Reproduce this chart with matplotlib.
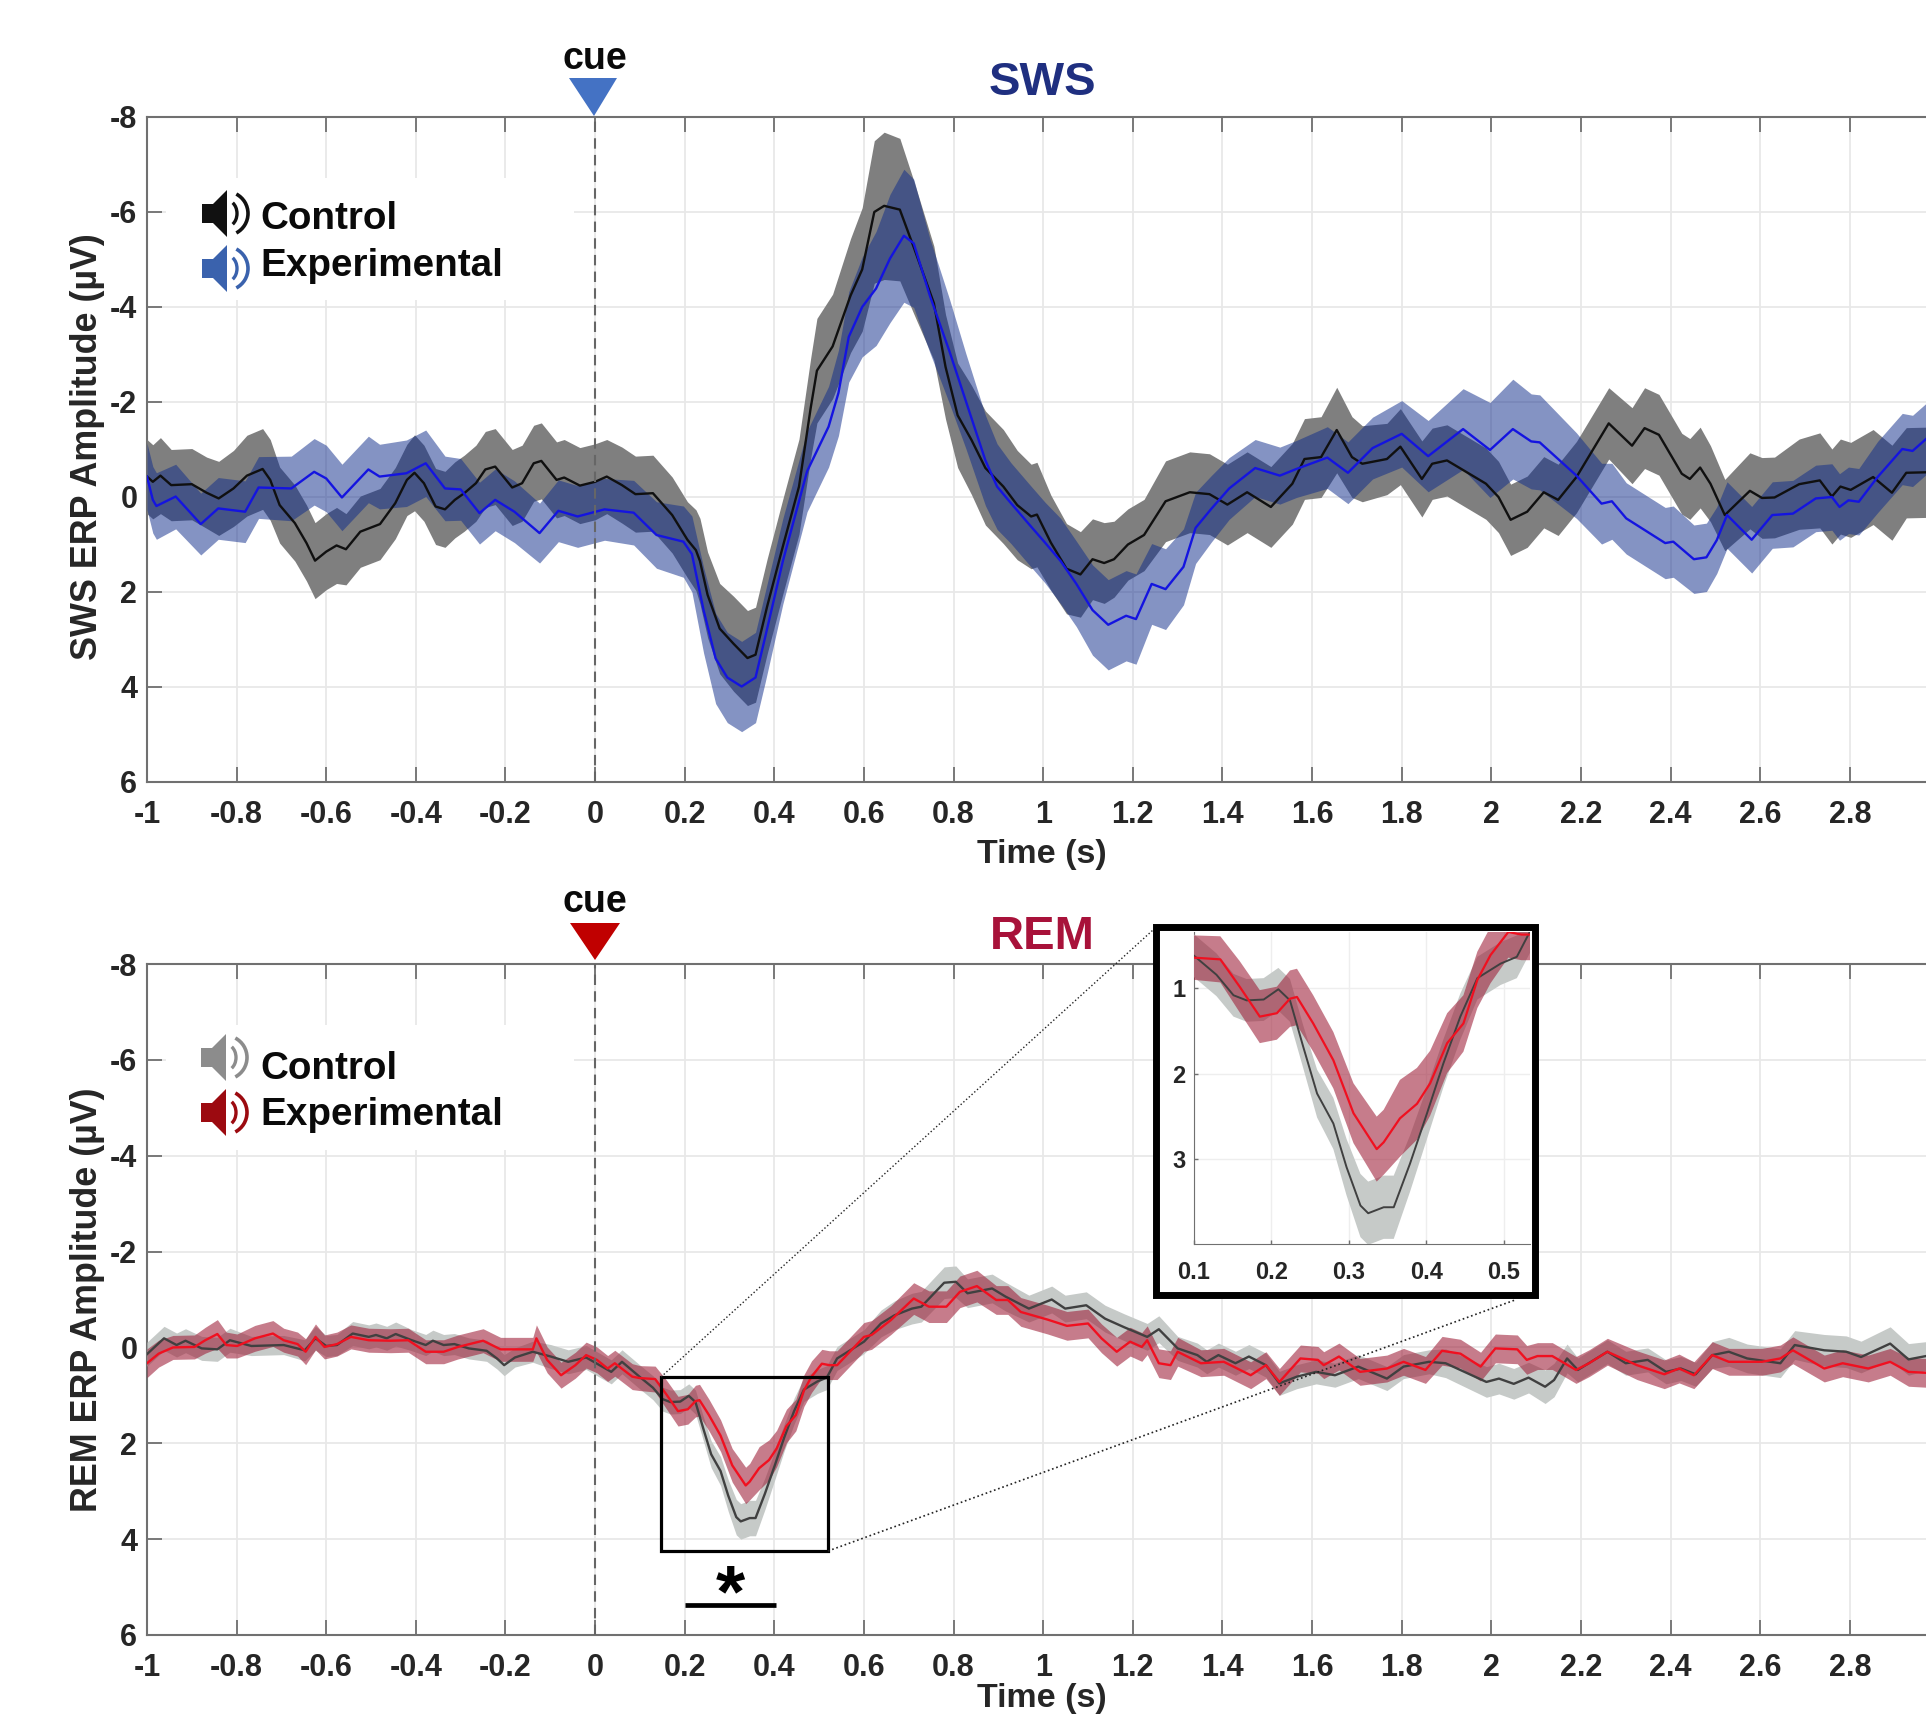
import matplotlib
matplotlib.use('Agg')
import matplotlib.pyplot as plt
import numpy as np
from matplotlib.patches import Polygon, Rectangle, Arc

plt.rcParams['font.family'] = ['Liberation Sans', 'DejaVu Sans']
plt.rcParams['font.weight'] = 'bold'
plt.rcParams['axes.labelweight'] = 'bold'

W, H = 1926, 1718

# SWS control
sws_c_t = [-1, -.987, -.97, -.946, -.90, -.867, -.84, -.807, -.777, -.742,
           -.725, -.704, -.67, -.644, -.625, -.60, -.577, -.556, -.524, -.48,
           -.446, -.42, -.403, -.382, -.356, -.335, -.313, -.292, -.266, -.245,
           -.223, -.185, -.163, -.137, -.12, -.086, -.069, -.034, 0, .026,
           .06, .09, .129, .172, .206, .225, .234, .251, .278, .309,
           .34, .358, .384, .419, .455, .481, .495, .53, .57, .596,
           .623, .645, .68, .711, .756, .782, .809, .84, .871, .911,
           .942, .973, .986, 1.017, 1.052, 1.083, 1.11, 1.136, 1.158, 1.189,
           1.225, 1.273, 1.327, 1.371, 1.411, 1.455, 1.508, 1.556, 1.583, 1.62,
           1.655, 1.689, 1.712, 1.767, 1.797, 1.845, 1.868, 1.901, 1.933, 1.988,
           2.016, 2.043, 2.08, 2.117, 2.149, 2.19, 2.262, 2.314, 2.342, 2.374,
           2.425, 2.443, 2.466, 2.489, 2.521, 2.577, 2.604, 2.632, 2.687, 2.733,
           2.76, 2.779, 2.802, 2.852, 2.894, 2.926, 2.97]
sws_c_v = [-.43, -.32, -.45, -.25, -.27, -.09, .03, -.18, -.45, -.59,
           -.36, .17, .55, .97, 1.34, 1.15, 1.02, 1.10, .73, .57,
           .13, -.36, -.51, -.29, .20, .26, .06, -.08, -.29, -.58,
           -.64, -.20, -.29, -.71, -.76, -.36, -.41, -.24, -.32, -.43,
           -.25, -.06, -.08, .38, .90, 1.12, 1.35, 2.06, 2.77, 3.09,
           3.39, 3.32, 2.30, 1.04, -.22, -1.87, -2.66, -3.17, -4.24, -4.79,
           -6.0, -6.13, -6.05, -5.26, -4.08, -2.74, -1.72, -1.2, -.61, -.22,
           .17, .41, .37, .96, 1.51, 1.63, 1.31, 1.39, 1.31, 1.0,
           .80, .09, -.10, -.06, .16, -.10, .21, -.28, -.8, -.84,
           -1.41, -.84, -.7, -.8, -1.06, -.38, -.7, -.77, -.59, -.28,
           0, .48, .31, -.1, .06, -.42, -1.55, -1.08, -1.45, -1.31,
           -.49, -.38, -.62, -.28, .38, -.13, .02, .01, -.27, -.35,
           -.01, -.22, -.15, -.42, -.09, -.51, -.52]
sws_c_e = [.78, .78, .8, .75, .75, .75, .78, .8, .85, .85,
           .85, .8, .8, .8, .8, .8, .8, .75, .75, .75,
           .75, .75, .8, .8, .8, .8, .8, .8, .8, .8,
           .8, .8, .8, .8, .8, .8, .8, .8, .8, .78,
           .8, .8, .8, .8, .8, .85, .9, .9, .95, 1.0,
           1.0, 1.0, 1.0, 1.0, 1.0, 1.05, 1.1, 1.1, 1.2, 1.3,
           1.5, 1.55, 1.5, 1.4, 1.2, 1.1, 1.1, 1.15, 1.2, 1.2,
           1.15, 1.1, 1.1, 1.0, .95, .9, .85, .85, .8, .75,
           .75, .85, .85, .85, .85, .85, .85, .85, .85, .85,
           .9, .85, .8, .75, .8, .8, .75, .75, .75, .75,
           .75, .75, .75, .75, .75, .75, .75, .8, .85, .85,
           .85, .85, .85, .8, .75, .8, .85, .85, .95, 1.0,
           1.0, 1.0, 1.0, 1.0, 1.0, .95, .95]

# SWS experimental
sws_e_t = [-1, -.987, -.979, -.936, -.88, -.841, -.781, -.751, -.678, -.627,
           -.60, -.565, -.506, -.481, -.421, -.378, -.335, -.30, -.258, -.223,
           -.18, -.124, -.082, -.039, .021, .086, .137, .197, .216, .242,
           .269, .295, .327, .358, .38, .419, .473, .521, .543, .566,
           .596, .627, .658, .689, .711, .747, .791, .827, .871, .897,
           .928, .968, 1.004, 1.039, 1.074, 1.11, 1.145, 1.185, 1.207, 1.242,
           1.273, 1.313, 1.34, 1.375, 1.415, 1.473, 1.528, 1.565, 1.634, 1.68,
           1.735, 1.8, 1.859, 1.937, 1.997, 2.048, 2.089, 2.108, 2.19, 2.246,
           2.269, 2.301, 2.388, 2.406, 2.452, 2.48, 2.503, 2.526, 2.581, 2.627,
           2.673, 2.724, 2.76, 2.777, 2.797, 2.82, 2.862, 2.917, 2.94, 2.97]
sws_e_v = [-.43, .06, .19, -.01, .57, .24, .31, -.2, -.18, -.53,
           -.39, .01, -.58, -.43, -.5, -.71, -.18, -.16, .34, .06,
           .31, .76, .29, .41, .26, .33, .8, .94, 1.2, 2.38,
           3.4, 3.8, 3.99, 3.8, 2.93, 1.35, -.54, -1.48, -2.19, -3.37,
           -4.0, -4.39, -5.02, -5.5, -5.34, -4.24, -3.06, -2.03, -.77, -.22,
           .13, .57, .96, 1.35, 1.83, 2.38, 2.69, 2.5, 2.57, 1.83,
           1.94, 1.47, .65, .25, -.18, -.61, -.45, -.59, -.83, -.51,
           -1.03, -1.33, -.86, -1.43, -.99, -1.43, -1.17, -1.15, -.45, .14,
           .09, .45, .97, .94, 1.31, 1.27, .91, .38, .9, .38,
           .35, .03, 0, .21, .07, .1, -.42, -1.01, -.97, -1.22]
sws_e_e = [.7, .7, .7, .68, .65, .65, .65, .65, .68, .7,
           .7, .7, .7, .68, .7, .7, .68, .65, .65, .65,
           .65, .63, .65, .65, .65, .68, .7, .75, .8, .9,
           .95, .95, .95, .95, .95, .9, .85, .85, .9, .95,
           1.05, 1.2, 1.35, 1.4, 1.35, 1.2, 1.1, 1.0, .95, .9,
           .85, .85, .85, .9, .9, .95, .95, .95, .95, .85,
           .85, .8, .75, .7, .65, .6, .6, .6, .65, .65,
           .65, .7, .75, .85, 1.0, 1.05, 1.0, 1.0, .9, .85,
           .8, .75, .75, .75, .72, .72, .7, .7, .7, .7,
           .7, .7, .7, .7, .7, .7, .75, .75, .75, .75]

# REM control
rem_c_t = [-1, -.962, -.934, -.914, -.878, -.843, -.815, -.767, -.695, -.648,
           -.624, -.6, -.576, -.541, -.505, -.489, -.465, -.445, -.409, -.378,
           -.362, -.338, -.314, -.282, -.242, -.219, -.203, -.179, -.139, -.099,
           -.06, -.02, .036, .06, .099, .129, .151, .168, .19, .209,
           .224, .241, .259, .28, .297, .315, .325, .345, .358, .379,
           .401, .422, .444, .466, .496, .517, .54, .6, .638, .668,
           .707, .728, .779, .805, .831, .886, .916, .968, 1.019, 1.049,
           1.096, 1.138, 1.181, 1.232, 1.258, 1.3, 1.344, 1.365, 1.391, 1.429,
           1.459, 1.497, 1.527, 1.566, 1.609, 1.651, 1.703, 1.767, 1.804, 1.861,
           1.898, 1.989, 2.017, 2.05, 2.083, 2.12, 2.14, 2.169, 2.193, 2.259,
           2.3, 2.349, 2.39, 2.423, 2.456, 2.493, 2.53, 2.571, 2.645, 2.677,
           2.743, 2.792, 2.825, 2.89, 2.931, 2.97]
rem_c_v = [.14, -.19, -.05, -.14, .02, .04, -.15, -.03, -.05, .06,
           -.19, -.03, -.05, -.29, -.22, -.26, -.19, -.28, -.15, -.05,
           -.14, -.05, -.07, .02, .07, .23, .37, .21, .09, .19,
           .3, .21, .51, .3, .61, .84, 1.08, 1.14, 1.13, 1.01,
           1.14, 1.68, 2.23, 2.58, 3.09, 3.54, 3.63, 3.56, 3.56, 3.05,
           2.46, 1.88, 1.33, .88, .71, .63, .23, -.12, -.5, -.67,
           -.81, -.85, -1.35, -1.37, -1.13, -1.23, -1.06, -.81, -1.0, -.81,
           -.88, -.6, -.42, -.22, -.38, .02, .16, .3, .16, .33,
           .19, .37, .75, .61, .51, .58, .4, .65, .4, .3,
           .33, .72, .65, .76, .63, .82, .68, .23, .47, .09,
           .33, .26, .51, .44, .56, .16, .09, .23, .33, -.05,
           .06, .09, .2, -.08, .25, .18]
rem_c_e = [.25, .25, .25, .25, .25, .25, .25, .2, .2, .22,
           .25, .22, .22, .25, .25, .25, .25, .25, .22, .22,
           .22, .22, .22, .22, .22, .22, .22, .2, .22, .25,
           .25, .25, .25, .25, .25, .25, .25, .25, .25, .25,
           .25, .25, .28, .3, .33, .37, .37, .37, .37, .33,
           .3, .28, .27, .25, .25, .25, .25, .25, .28, .3,
           .32, .32, .33, .33, .3, .3, .3, .28, .28, .28,
           .28, .28, .28, .28, .28, .25, .25, .25, .25, .25,
           .25, .25, .25, .25, .25, .25, .25, .25, .25, .25,
           .3, .32, .32, .32, .32, .35, .35, .3, .25, .25,
           .25, .25, .25, .25, .25, .28, .3, .3, .3, .3,
           .33, .33, .33, .35, .33, .3]

# REM experimental
rem_e_t = [-1, -.974, -.942, -.894, -.87, -.843, -.823, -.799, -.759, -.719,
           -.695, -.664, -.646, -.624, -.604, -.576, -.545, -.505, -.457, -.417,
           -.378, -.338, -.306, -.25, -.211, -.139, -.131, -.107, -.076, -.044,
           -.02, .004, .028, .044, .083, .1, .134, .159, .185, .207,
           .224, .233, .254, .28, .306, .336, .345, .366, .388, .405,
           .427, .448, .466, .483, .506, .523, .54, .6, .617, .66,
           .711, .745, .784, .814, .852, .895, .921, .95, 1.01, 1.053,
           1.1, 1.13, 1.164, 1.194, 1.22, 1.232, 1.258, 1.284, 1.3, 1.352,
           1.403, 1.463, 1.497, 1.527, 1.574, 1.613, 1.626, 1.66, 1.707, 1.767,
           1.804, 1.853, 1.89, 1.931, 1.976, 2.009, 2.058, 2.079, 2.103, 2.136,
           2.189, 2.218, 2.259, 2.325, 2.386, 2.419, 2.452, 2.493, 2.53, 2.604,
           2.645, 2.673, 2.743, 2.784, 2.841, 2.89, 2.931, 2.97]
rem_e_v = [.33, .13, 0, -.01, -.15, -.28, -.05, -.03, -.19, -.29,
           -.15, -.07, .09, -.22, -.01, -.07, -.22, -.15, -.14, -.15,
           .09, .09, -.01, -.14, .04, .04, -.19, .26, .58, .37,
           .16, .26, .44, .33, .61, .64, .66, .98, 1.33, 1.29,
           1.12, 1.1, 1.41, 1.84, 2.46, 2.88, 2.8, 2.52, 2.35, 2.11,
           1.64, 1.41, .9, .61, .34, .37, .37, -.22, -.26, -.57,
           -1.02, -.85, -.85, -1.16, -1.28, -.99, -.99, -.74, -.58, -.45,
           -.5, -.19, .09, -.12, -.01, -.15, .33, .37, .09, .33,
           .3, .58, .37, .72, .23, .26, .37, .19, .51, .44,
           .3, .47, .07, .13, .4, .02, .04, .26, .18, .18,
           .47, .33, .09, .37, .56, .44, .58, .16, .3, .3,
           .23, .06, .44, .33, .44, .3, .51, .53]
rem_e_e = [.3, .28, .25, .25, .27, .3, .27, .25, .27, .27,
           .25, .25, .27, .27, .25, .25, .25, .25, .25, .25,
           .25, .25, .25, .25, .25, .25, .28, .27, .27, .27,
           .27, .27, .27, .27, .27, .26, .27, .3, .31, .31,
           .33, .33, .33, .33, .35, .38, .38, .45, .42, .38,
           .35, .33, .33, .33, .3, .3, .3, .3, .3, .3,
           .33, .33, .33, .33, .33, .3, .3, .3, .3, .3,
           .3, .3, .3, .3, .3, .3, .3, .3, .3, .28,
           .28, .28, .28, .28, .28, .28, .28, .28, .28, .28,
           .28, .28, .3, .3, .3, .3, .3, .3, .28, .28,
           .28, .28, .28, .3, .3, .3, .28, .28, .28, .28,
           .28, .28, .28, .28, .28, .28, .3, .3]

x_ticks = [-1, -.8, -.6, -.4, -.2, 0, .2, .4, .6, .8, 1, 1.2, 1.4, 1.6, 1.8, 2, 2.2, 2.4, 2.6, 2.8]
x_labels = ['-1', '-0.8', '-0.6', '-0.4', '-0.2', '0', '0.2', '0.4', '0.6', '0.8', '1',
            '1.2', '1.4', '1.6', '1.8', '2', '2.2', '2.4', '2.6', '2.8']
y_ticks = [-8, -6, -4, -2, 0, 2, 4, 6]
y_labels = ['-8', '-6', '-4', '-2', '0', '2', '4', '6']
inset_x = [.1, .2, .3, .4, .5]
inset_y = [1, 2, 3]

DARK = '#262626'
AXC = '#707070'


def pixel_axes(left, top, right, bottom, z):
    return fig.add_axes([left / W, 1 - bottom / H, (right - left) / W, (bottom - top) / H], zorder=z)


def band(ax, t, v, e, fill, alpha, z):
    t = np.array(t)
    v = np.array(v)
    e = np.array(e)
    ax.fill_between(t, v - e, v + e, color=fill, alpha=alpha, lw=0, zorder=z)


def panel(top, bottom, ylab, xlab_off, ylab_y, tc, vc, ec, te, ve, ee, cfill, calpha, cline, efill, ealpha, eline, lw):
    ax = pixel_axes(147, top, W, bottom, 1)
    band(ax, tc, vc, ec, cfill, calpha, 3)
    band(ax, te, ve, ee, efill, ealpha, 4)
    ax.plot(tc, vc, color=cline, lw=lw, zorder=5, solid_joinstyle='round')
    ax.plot(te, ve, color=eline, lw=lw, zorder=6, solid_joinstyle='round')
    ax.axvline(0, color='#666666', lw=1.5, ls=(0, (5, 3)), zorder=7)
    ax.set_xlim(-1, 2.97)
    ax.set_ylim(6, -8)
    ax.set_xticks(x_ticks, x_labels)
    ax.set_yticks(y_ticks, y_labels)
    ax.tick_params(direction='in', length=10.5, width=1.3, color=AXC, labelcolor=DARK, labelsize=22, top=True)
    ax.tick_params(axis='x', pad=13)
    ax.tick_params(axis='y', pad=7)
    ax.grid(True, color='#e8e8e8', lw=1.3)
    ax.set_axisbelow(True)
    for s in ['top', 'left', 'bottom']:
        ax.spines[s].set_color(AXC)
        ax.spines[s].set_linewidth(1.5)
    ax.spines['right'].set_visible(False)
    ax.set_xlabel('Time (s)', fontsize=24.5, color=DARK, va='center')
    ax.xaxis.set_label_coords(.503, -(xlab_off / (bottom - top)))
    ax.set_ylabel(ylab, fontsize=25.8, color=DARK, va='center')
    ax.yaxis.set_label_coords(-(59 / 1779), ylab_y)
    return ax


def speaker(x, y, color):
    # x, y: top left of the icon in pixels
    over.add_patch(Polygon([(x, y + 14), (x + 11, y + 14), (x + 25, y), (x + 25, y + 47),
                            (x + 11, y + 33), (x, y + 33)], closed=True, fc=color, ec='none'))
    over.add_patch(Arc((x + 25, y + 23.5), 20, 26, theta1=-62, theta2=62, color=color, lw=2.4))
    over.add_patch(Arc((x + 24, y + 23.5), 44, 44, theta1=-62, theta2=62, color=color, lw=2.6))


fig = plt.figure(figsize=(W / 100, H / 100), dpi=100, facecolor='white')

sws_ax = panel(117, 782, 'SWS ERP Amplitude (µV)', 73, .505, sws_c_t, sws_c_v, sws_c_e, sws_e_t, sws_e_v, sws_e_e,
               '#7f7f7f', 1.0, '#101010', '#0e2b8b', .51, '#1414e0', 1.7)
rem_ax = panel(964, 1635, 'REM ERP Amplitude (µV)', 63, .5, rem_c_t, rem_c_v, rem_c_e, rem_e_t, rem_e_v, rem_e_e,
               '#c6cac8', 1.0, '#404040', '#9e1e37', .58, '#f01020', 1.7)

# everything pasted on top of the panels, in picture pixels
over = fig.add_axes([0, 0, 1, 1], zorder=2)
over.set_xlim(0, W)
over.set_ylim(H, 0)
over.axis('off')

over.add_patch(Rectangle((166, 178), 408, 122, fc='white', ec='none'))
over.add_patch(Rectangle((166, 1025), 408, 125, fc='white', ec='none'))

over.text(595, 59, 'cue', fontsize=27, ha='center', va='center', color='#0a0a0a')
over.text(595, 902, 'cue', fontsize=27, ha='center', va='center', color='#0a0a0a')
over.add_patch(Polygon([(569, 78), (617, 78), (594, 116)], closed=True, fc='#4472c4', ec='none'))
over.add_patch(Polygon([(570, 923), (620, 923), (595, 960)], closed=True, fc='#c00000', ec='none'))
over.text(1042, 83, 'SWS', fontsize=34, ha='center', va='center', color='#1f2f80')
over.text(1042, 937, 'REM', fontsize=34, ha='center', va='center', color='#a8123a')

speaker(202, 190, '#111111')
speaker(202, 245, '#3a62ad')
speaker(201, 1034, '#8c8c8c')
speaker(201, 1089, '#9c0a10')
over.text(260, 219, 'Control', fontsize=27.8, va='center', color='#0a0a0a')
over.text(260, 266, 'Experimental', fontsize=27.8, va='center', color='#0a0a0a')
over.text(260, 1069, 'Control', fontsize=27.8, va='center', color='#0a0a0a')
over.text(260, 1115, 'Experimental', fontsize=27.8, va='center', color='#0a0a0a')

# zoom box, connectors and significance bar
over.add_patch(Rectangle((661, 1377), 167, 174, fc='none', ec='black', lw=2.3))
over.plot([661, 1153], [1377, 930], color='#222222', lw=1, ls=':')
over.plot([828, 1515], [1551, 1300], color='#222222', lw=1.2, ls=':')
over.plot([685, 776], [1605, 1605], color='black', lw=3.4, solid_capstyle='butt')
over.text(730, 1597, '*', fontsize=54, ha='center', va='center', color='black')
over.add_patch(Rectangle((1156, 927), 379, 368, fc='white', ec='black', lw=5, zorder=10))

# inset
ins = pixel_axes(1194, 932, 1530, 1244, 3)
ins.patch.set_alpha(0)
band(ins, rem_c_t, rem_c_v, rem_c_e, '#c6cac8', 1.0, 3)
band(ins, rem_e_t, rem_e_v, rem_e_e, '#9e1e37', .58, 4)
ins.plot(rem_c_t, rem_c_v, color='#404040', lw=1.4, zorder=5, solid_joinstyle='round')
ins.plot(rem_e_t, rem_e_v, color='#f01020', lw=1.6, zorder=6, solid_joinstyle='round')
ins.set_xlim(.1, .534)
ins.set_ylim(3.99, .34)
ins.set_xticks(inset_x, ['0.1', '0.2', '0.3', '0.4', '0.5'])
ins.set_yticks(inset_y, ['1', '2', '3'])
ins.tick_params(direction='in', length=3, width=1, color=AXC, labelcolor=DARK, labelsize=17)
ins.tick_params(axis='x', pad=12)
ins.tick_params(axis='y', pad=6)
ins.grid(True, color='#eeeeee', lw=1)
ins.set_axisbelow(True)
ins.spines['top'].set_visible(False)
ins.spines['right'].set_visible(False)
ins.spines['left'].set_color(AXC)
ins.spines['bottom'].set_color(AXC)

fig.savefig('out.png', dpi=100)
